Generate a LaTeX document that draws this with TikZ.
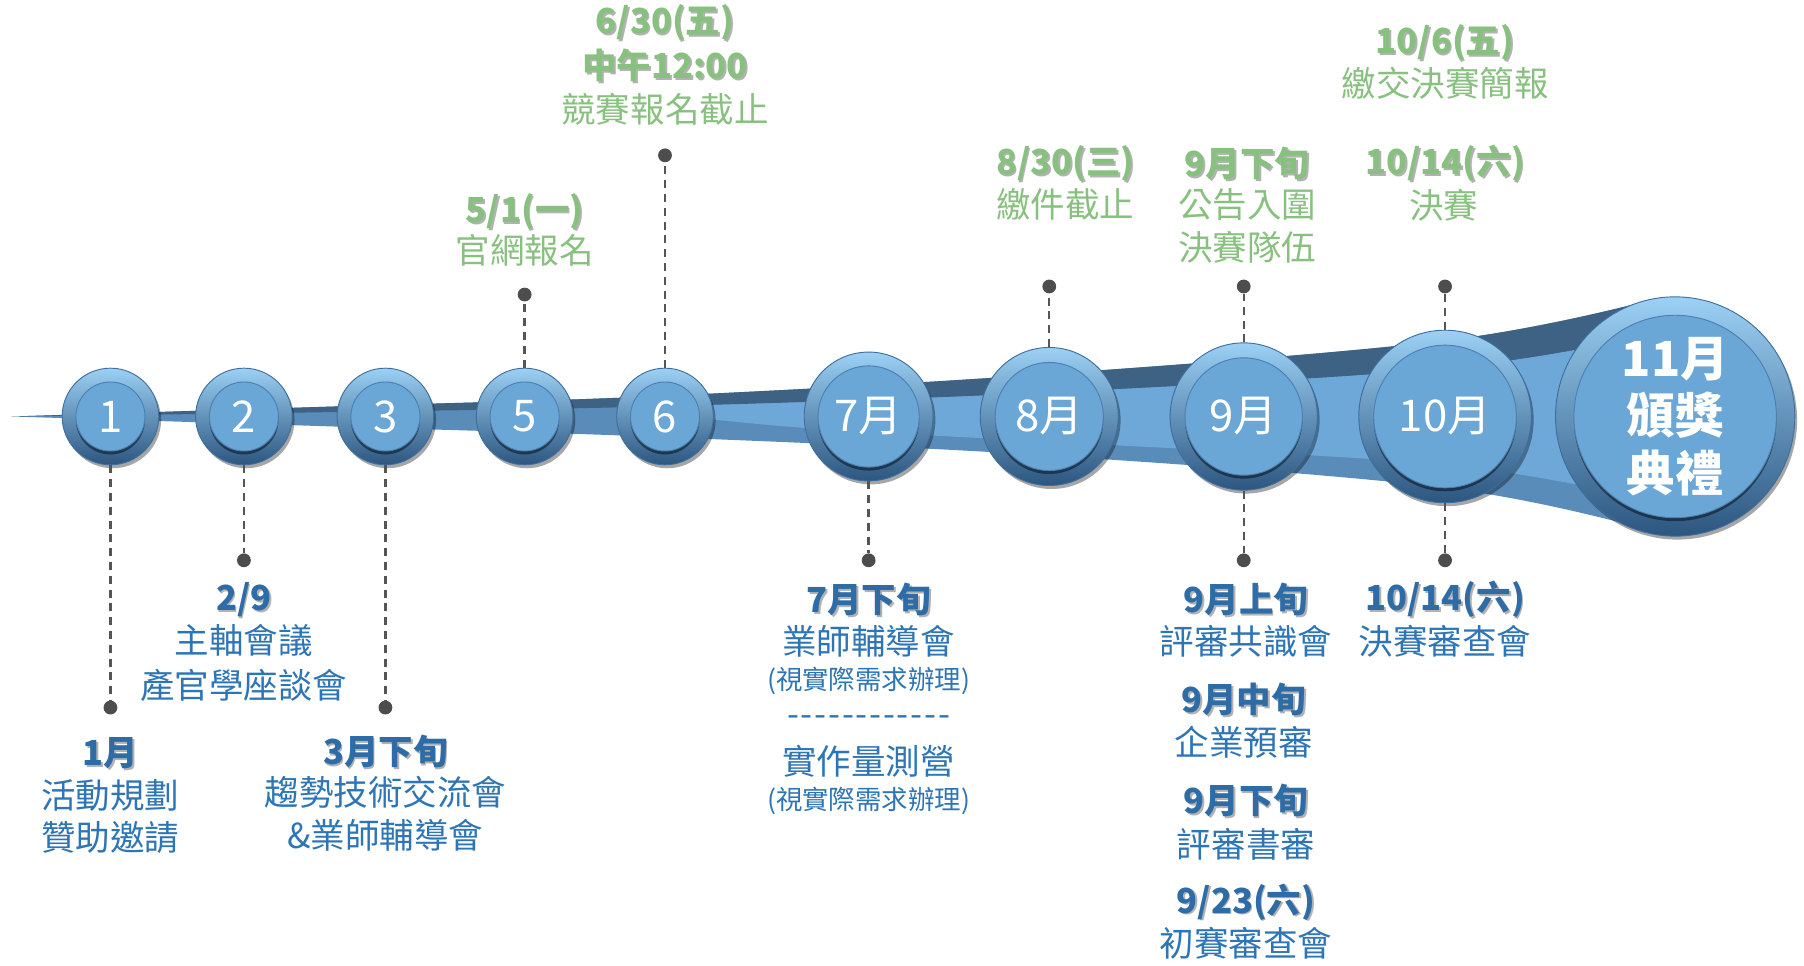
\documentclass[tikz,border=0pt]{standalone}
\usepackage{fontspec}
\setmainfont{Noto Sans CJK TC}
\usetikzlibrary{shadows}
\definecolor{ribdark}{HTML}{3E6283}
\definecolor{ribmid}{HTML}{5A8CBA}
\definecolor{riblight}{HTML}{6EA8D8}
\definecolor{ringtop}{HTML}{9CD0F4}
\definecolor{ringmid}{HTML}{62A0D4}
\definecolor{ringbot}{HTML}{2C5680}
\definecolor{ringedge}{HTML}{3D6E9C}
\definecolor{face}{HTML}{6AA6D6}
\definecolor{faceedge}{HTML}{4B80B0}
\definecolor{tblue}{HTML}{2E75B6}
\definecolor{tblueb}{HTML}{2D6CA6}
\definecolor{tgreen}{HTML}{88C17F}
\definecolor{dotc}{HTML}{4D4D4D}
\definecolor{dashc}{HTML}{555555}
\newcommand\tlc[6]{%
  \node[outerc, minimum size=#3pt] (#1) at (#2,362) {};
  \node[innerc, minimum size=#4pt, font=\fontsize{#5}{#5}\selectfont] (#1i) at (#1) {#6};
}
\newcommand\bl[4]{%
  \node[#2, text=black, opacity=0.3, xshift=1.5pt, yshift=-1.5pt] (#1s) at (#3) {#4};
  \node[#2] (#1) at (#3) {#4};
}
\newcommand\hy{-\kern1.5pt}
\begin{document}
\begin{tikzpicture}[x=1pt, y=-1pt,
  every node/.style={inner sep=0pt},
  outerc/.style={circle, shading=axis, top color=ringtop, middle color=ringmid, bottom color=ringbot, draw=ringedge, line width=0.8pt,
     drop shadow={shadow xshift=2pt, shadow yshift=-3pt, opacity=0.35, fill=black}},
  innerc/.style={circle, fill=face, draw=faceedge, line width=0.8pt, text=white,
     drop shadow={shadow xshift=0pt, shadow yshift=-3pt, opacity=0.45, fill=black}},
  blue/.style={text=tblue, font=\fontsize{30}{36}\selectfont},
  blueb/.style={text=tblueb, font=\fontsize{30}{36}\selectfont\bfseries},
  bsmall/.style={text=tblue, font=\fontsize{23}{28}\selectfont},
  green/.style={text=tgreen, font=\fontsize{30}{36}\selectfont},
  greenb/.style={text=tgreen, font=\fontsize{30}{36}\selectfont\bfseries},
  dashline/.style={draw=dashc, line width=2pt, dash pattern=on 7pt off 5pt},
  dotn/.style={circle, fill=dotc, minimum size=12pt}
]
\useasboundingbox (0,0) rectangle (1568,838.8);
% ribbon
\fill[ribmid] plot[smooth, tension=0.6] coordinates {(10,362) (300,353) (578,344) (912,325) (1256,296) (1430,262)}
  -- plot[smooth, tension=0.6] coordinates {(1430,460) (1256,424) (912,396) (578,380) (300,371) (10,362)} -- cycle;
\fill[riblight] plot[smooth, tension=0.6] coordinates {(540,354) (578,353) (912,341) (1256,320) (1430,292)}
  -- plot[smooth, tension=0.6] coordinates {(1430,434) (1256,404) (912,384) (700,372) (540,356)} -- cycle;
\fill[ribdark] plot[smooth, tension=0.6] coordinates {(10,362) (300,353) (578,344) (912,325) (1256,296) (1430,262)}
  -- plot[smooth, tension=0.6] coordinates {(1430,292) (1256,320) (912,341) (578,353) (300,358) (10,362)} -- cycle;
% circles
\tlc{c1}{96}{84}{60}{38}{1}
\tlc{c2}{212}{84}{60}{38}{2}
\tlc{c3}{335}{84}{60}{38}{3}
\tlc{c5}{456}{84}{60}{38}{5}
\tlc{c6}{578}{84}{60}{38}{6}
\tlc{c7}{755}{112}{88}{38}{7月}
\tlc{c8}{912}{120}{94}{38}{8月}
\tlc{c9}{1081}{128}{102}{38}{9月}
\tlc{c10}{1256}{150}{124}{38}{10月}
\node[outerc, minimum size=208pt] (c11) at (1456,362) {};
\node[innerc, minimum size=176pt, align=center, font=\fontsize{42}{50}\selectfont\bfseries] (c11i) at (c11) {11月\\頒獎\\典禮};
% dots
\node[dotn] (d1) at (96,615) {};
\node[dotn] (d2) at (212,487) {};
\node[dotn] (d3) at (335,615) {};
\node[dotn] (d5) at (456,256) {};
\node[dotn] (d6) at (578,135) {};
\node[dotn] (d7) at (755,487) {};
\node[dotn] (d8) at (912,249) {};
\node[dotn] (d9t) at (1081,249) {};
\node[dotn] (d9b) at (1081,487) {};
\node[dotn] (d10t) at (1256,249) {};
\node[dotn] (d10b) at (1256,487) {};
% connectors
\draw[dashline] (c1.south) -- (d1);
\draw[dashline] (c2.south) -- (d2);
\draw[dashline] (c3.south) -- (d3);
\draw[dashline] (c5.north) -- (d5);
\draw[dashline] (c6.north) -- (d6);
\draw[dashline] (c7.south) -- (d7);
\draw[dashline] (c8.north) -- (d8);
\draw[dashline] (c9.north) -- (d9t);
\draw[dashline] (c9.south) -- (d9b);
\draw[dashline] (c10.north) -- (d10t);
\draw[dashline] (c10.south) -- (d10b);
% green labels
\bl{g6a}{greenb}{578,20}{6/30(五)}
\bl{g6b}{greenb}{578,57}{中午12:00}
\node[green] (g6c) at (578,95) {競賽報名截止};
\bl{g5a}{greenb}{456,184}{5/1(一)}
\node[green] (g5b) at (456,218) {官網報名};
\bl{g8a}{greenb}{926,142}{8/30(三)}
\node[green] (g8b) at (926,178) {繳件截止};
\bl{g9a}{greenb}{1084,142}{9月下旬}
\node[green] (g9b) at (1084,178) {公告入圍};
\node[green] (g9c) at (1084,215) {決賽隊伍};
\bl{g10a}{greenb}{1256,142}{10/14(六)}
\node[green] (g10b) at (1255,178) {決賽};
\bl{g10c}{greenb}{1256,37}{10/6(五)}
\node[green] (g10d) at (1256,72) {繳交決賽簡報};
% blue labels
\bl{b1a}{blueb}{96,655}{1月}
\node[blue] (b1b) at (96,691) {活動規劃};
\node[blue] (b1c) at (96,728) {贊助邀請};
\bl{b2a}{blueb}{212,521}{2/9}
\node[blue] (b2b) at (212,557) {主軸會議};
\node[blue] (b2c) at (212,596) {產官學座談會};
\bl{b3a}{blueb}{335,653}{3月下旬}
\node[blue] (b3b) at (335,689) {趨勢技術交流會};
\node[blue] (b3c) at (335,726) {\&業師輔導會};
\bl{b7a}{blueb}{755,521}{7月下旬}
\node[blue] (b7b) at (755,557) {業師輔導會};
\node[bsmall] (b7c) at (755,592) {(視實際需求辦理)};
\node[blue] (b7d) at (755,627) {\hy\hy\hy\hy\hy\hy\hy\hy\hy\hy\hy-};
\node[blue] (b7e) at (755,662) {實作量測營};
\node[bsmall] (b7f) at (755,696) {(視實際需求辦理)};
\bl{b9a}{blueb}{1083,521}{9月上旬}
\node[blue] (b9b) at (1083,557) {評審共識會};
\bl{b9c}{blueb}{1081,608}{9月中旬}
\node[blue] (b9d) at (1081,645) {企業預審};
\bl{b9e}{blueb}{1083,696}{9月下旬}
\node[blue] (b9f) at (1083,734) {評審書審};
\bl{b9g}{blueb}{1083,784}{9/23(六)}
\node[blue] (b9h) at (1083,820) {初賽審查會};
\bl{b10a}{blueb}{1256,521}{10/14(六)}
\node[blue] (b10b) at (1256,557) {決賽審查會};
\end{tikzpicture}
\end{document}
